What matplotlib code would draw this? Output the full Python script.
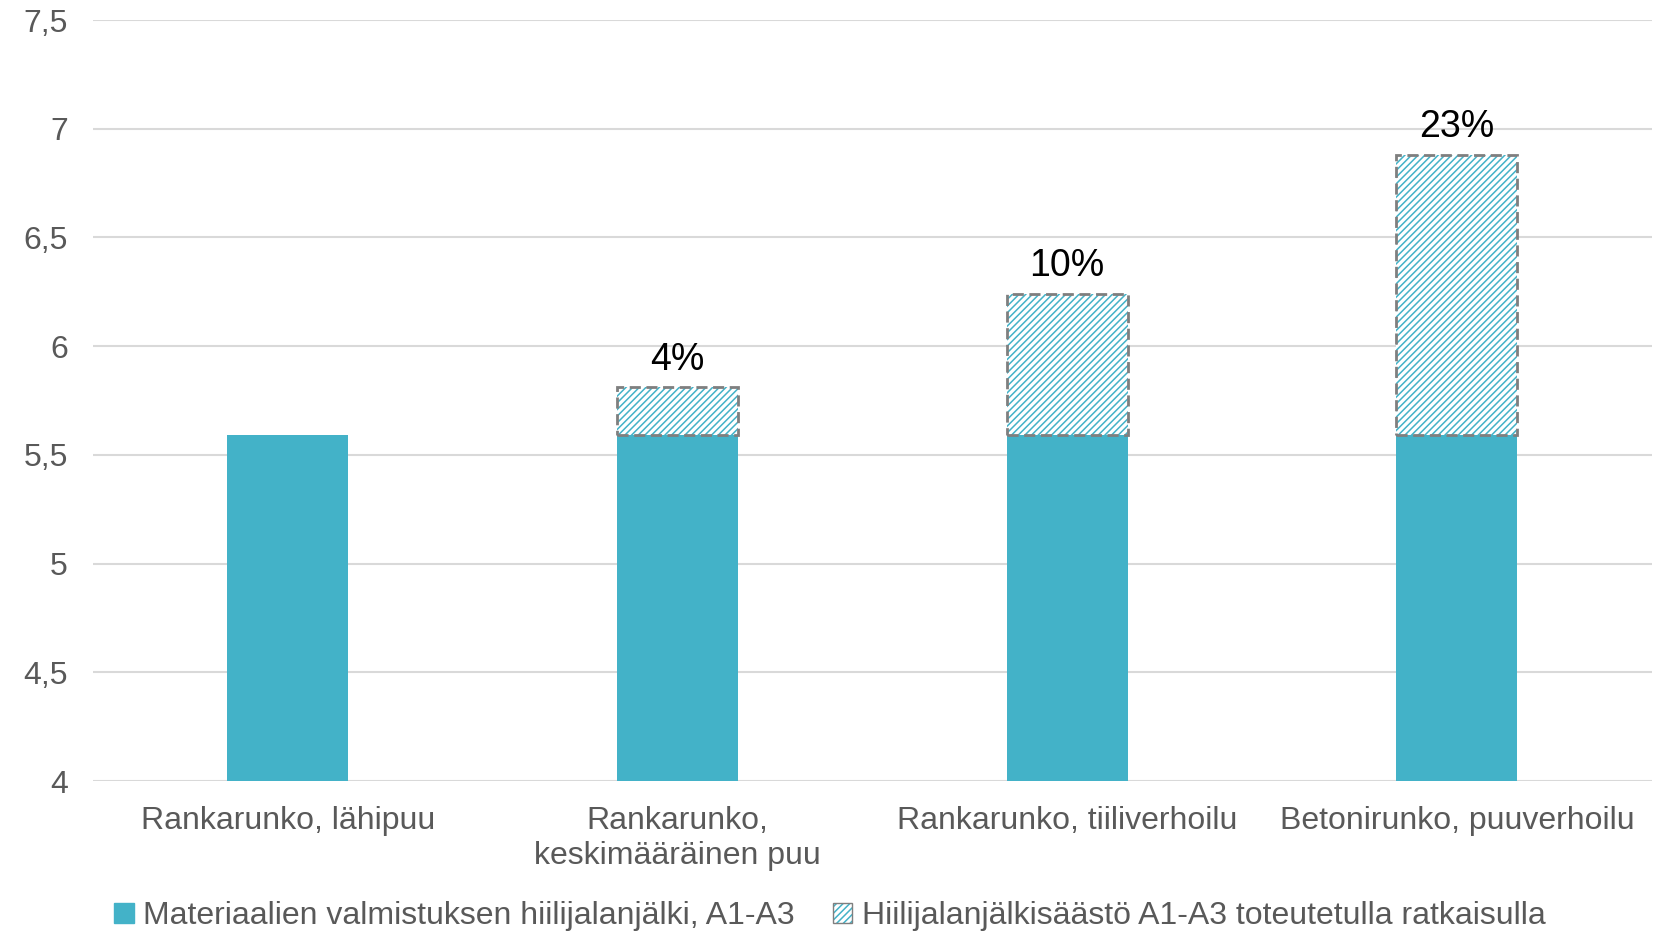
import matplotlib.pyplot as plt
from matplotlib.patches import Patch
import numpy as np

plt.rcParams['font.family'] = ['Liberation Sans', 'DejaVu Sans']
plt.rcParams['hatch.linewidth'] = 1.1

categories = ['Rankarunko, lähipuu', 'Rankarunko,\nkeskimääräinen puu',
              'Rankarunko, tiiliverhoilu', 'Betonirunko, puuverhoilu']
base = [5.59, 5.59, 5.59, 5.59]
saving = [0, 0.22, 0.65, 1.29]
saving_labels = ['', '4%', '10%', '23%']
yticks = [4, 4.5, 5, 5.5, 6, 6.5, 7, 7.5]
ytick_labels = ['4', '4,5', '5', '5,5', '6', '6,5', '7', '7,5']

teal = '#43B2C8'
grey = '#595959'
dash_grey = '#7F7F7F'

fig = plt.figure(figsize=(16.6, 9.32), dpi=100)
ax = fig.add_axes([0.056, 0.162, 0.939, 0.8165])

x = np.arange(len(categories))
w = 0.31
ax.bar(x, base, width=w, color=teal, zorder=3)
for i in range(len(x)):
    if saving[i] > 0:
        # hatch takes the edge colour, so draw the hatch and the dashed outline separately
        ax.bar(x[i], saving[i], bottom=base[i], width=w, facecolor='white',
               hatch='/////', edgecolor=teal, linewidth=0, zorder=3)
        ax.bar(x[i], saving[i], bottom=base[i], width=w, fill=False,
               edgecolor=dash_grey, linewidth=2, linestyle=(0, (4, 2)), zorder=4)
        ax.annotate(saving_labels[i], (x[i], base[i] + saving[i]),
                    xytext=(0, 7), textcoords='offset points',
                    ha='center', va='bottom', fontsize=27, color='black')

ax.set_ylim(4, 7.5)
ax.set_xlim(-0.5, 3.5)
ax.set_yticks(yticks)
ax.set_yticklabels(ytick_labels)
ax.set_xticks(x)
ax.set_xticklabels(categories)
ax.tick_params(axis='both', length=0, labelsize=23, colors=grey)
ax.tick_params(axis='y', pad=18)
ax.tick_params(axis='x', pad=18)
ax.grid(axis='y', color='#D9D9D9', linewidth=1.5, zorder=0)
for s in ax.spines.values():
    s.set_visible(False)

solid = Patch(facecolor=teal, edgecolor=teal)
hatched = (Patch(facecolor='white', hatch='/////', edgecolor=teal, linewidth=0),
           Patch(fill=False, edgecolor=dash_grey, linewidth=1))
fig.legend([solid, hatched], ['Materiaalien valmistuksen hiilijalanjälki, A1-A3',
                              'Hiilijalanjälkisäästö A1-A3 toteutetulla ratkaisulla'],
           loc='lower center', bbox_to_anchor=(0.5, -0.03), ncol=2, frameon=False,
           fontsize=23, labelcolor=grey, handlelength=0.6, handleheight=0.6,
           handletextpad=0.3, columnspacing=1.2)

fig.savefig('out.png', dpi=100)
